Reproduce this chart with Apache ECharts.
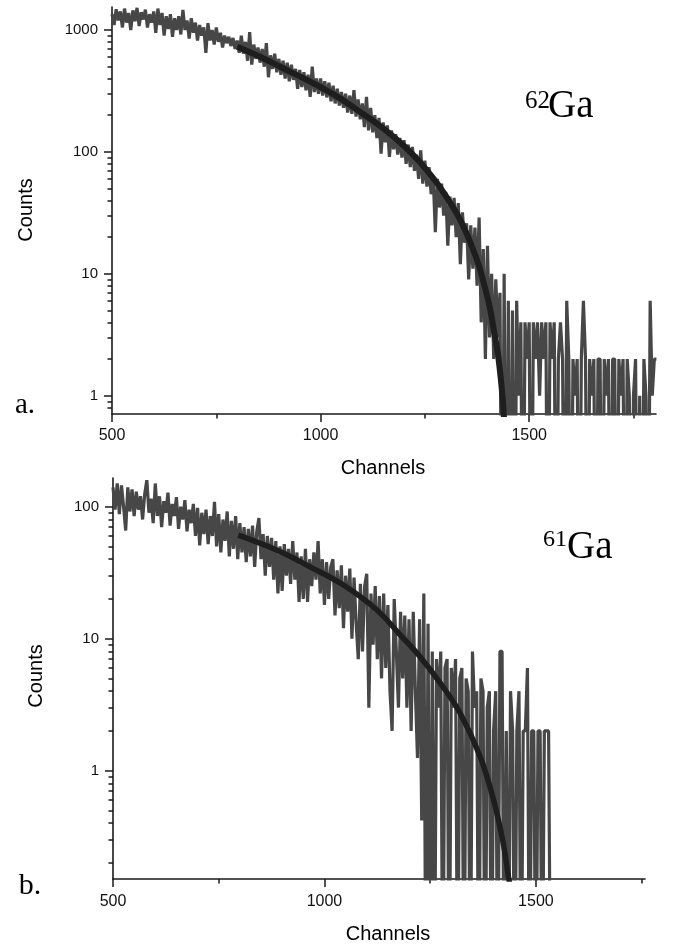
<!DOCTYPE html>
<html><head><meta charset="utf-8">
<script src="https://cdn.jsdelivr.net/npm/echarts@6/dist/echarts.min.js"></script>
<style>html,body{margin:0;padding:0;background:#fff}#c{width:673px;height:950px}</style>
</head><body><div id="c"></div>
<script>
// ---- Panel a: 62Ga spectrum (channels 500..1805, step 5) ----
const startA = 500, stepA = 5;
const countsA = [
1350,1100,1480,1200,1420,1050,1500,1150,1380,1000,
1450,1180,1520,1080,1400,1220,1470,1050,1350,1150,
1420,950,1500,1100,1380,900,1300,1020,1350,880,
1250,1000,1300,920,1460,1000,1200,850,1250,950,
1150,820,1100,900,1050,650,1140,820,1000,760,
1050,800,950,720,900,780,880,740,860,700,
820,650,900,640,800,560,960,520,760,580,
720,540,700,500,780,410,620,480,640,450,
580,430,560,400,540,380,520,390,480,330,
470,340,450,320,430,283,500,310,400,300,
400,290,380,280,370,260,350,250,330,240,
310,230,300,210,290,205,322,195,270,185,
250,160,283,150,230,145,200,130,190,97,
175,120,165,91,150,105,140,95,130,90,
125,80,115,75,110,70,95,60,103,55,
85,52,75,45,62,22,60,35,55,30,
47,17,43,25,42,20,38,12,32,18,
26,9,25,11,24,8,29,4,16,2,
17,3,10,2,9,3,7,0,10,0,
6,0,5,0,6,1,4,0,4,2,
4,0,4,2,4,1,4,2,4,0,
4,2,4,0,2,4,2,0,6,2,
0,2,1,2,0,2,6,2,0,2,
1,2,0,2,2,0,2,1,2,0,
2,2,0,2,1,2,0,2,1,0,
1,2,0,1,0,2,1,0,6,1,
2,2
];
const fitChA = [800,855,910,975,1040,1100,1150,1200,1240,1285,1335,1375,1390,1405,1415,1425,1436,1439,1444];
const fitValA = [730,604,486,377,284,207,156,112,81,52,27.6,13,8.7,5.4,3.5,2.2,1.0,0.708,0.45];

// ---- Panel b: 61Ga spectrum (channels 500..1535, step 5) ----
const startB = 500, stepB = 5;
const countsB = [
140,95,150,88,145,100,66,140,92,135,
85,130,95,120,80,125,159,90,115,75,
150,85,120,70,110,90,128,72,105,85,
118,68,100,80,112,65,95,75,105,60,
98,51,90,62,95,52,85,60,109,50,
88,45,80,55,92,42,78,48,85,40,
75,45,70,38,68,42,72,35,65,82,
40,62,30,60,35,58,28,55,22,50,
23,52,30,48,26,55,28,45,19,42,
20,48,19,40,25,45,28,55,22,40,
18,38,20,35,40,15,33,17,36,12,
30,16,34,10,29,13,7,26,8,25,
31,3,22,9,25,7,21,5,22,6,
18,4,2,20,8,3,16,5,15,3,
14,2,16,4,1.25,14,0.42,22,0,13,
0,8,0,7,3,8,0,6,7,0,
6,3,7,0,5,6,0,5,4,0,
8,3,4,0,5,4,0,3,4,0,
2,4,0,8,8,0,2,0,4,2,
0,2,4,0,2,2,6,0,2,2,
0,2,2,0,2,2,2,0
];
const fitChB = [796,887,966,1045,1124,1179,1226,1274,1321,1368,1400,1423,1435,1442];
const fitValB = [61,47,35,25.5,16.5,10.7,7.3,4.6,2.72,1.28,0.60,0.28,0.158,0.12];

// ---- Axis ticks ----
const xMajor = [500,1000,1500];
const xMinor = [750,1250,1750];
const yMajorA = [1,10,100,1000];
const yMinorA = [0.8,0.9,2,3,4,5,6,7,8,9,20,30,40,50,60,70,80,90,200,300,400,500,600,700,800,900];
const yMajorB = [1,10,100];
const yMinorB = [0.2,0.3,0.4,0.5,0.6,0.7,0.8,0.9,2,3,4,5,6,7,8,9,20,30,40,50,60,70,80,90];

const ZERO_FLOOR = 0.01; // zero counts are drawn down past the axis floor (clipped)
const SANS = "'Liberation Sans', Arial, Helvetica, sans-serif";
const SERIF = "'Liberation Serif', 'Times New Roman', serif";
const AX = '#1a1a1a';

function spectrum(start, step, counts) {
  return counts.map((v, i) => [start + i * step, v > 0 ? v : ZERO_FLOOR]);
}
function pairs(xs, ys) { return xs.map((x, i) => [x, ys[i]]); }

function xAxes(gi, max, margin) {
  return [
    { type: 'value', gridIndex: gi, min: 500, max: max, position: 'bottom',
      axisLine: { show: true, onZero: false, lineStyle: { color: AX, width: 1.6 } },
      axisTick: { show: true, customValues: xMajor, length: 8, lineStyle: { color: AX, width: 1.5 } },
      axisLabel: { customValues: xMajor, margin: margin, fontSize: 16, color: '#111', fontFamily: SANS, formatter: v => String(v) },
      splitLine: { show: false } },
    { type: 'value', gridIndex: gi, min: 500, max: max, position: 'bottom',
      axisLine: { show: false, onZero: false },
      axisTick: { show: true, customValues: xMinor, length: 4.5, lineStyle: { color: AX, width: 1.5 } },
      axisLabel: { show: false }, splitLine: { show: false } }
  ];
}
function yAxes(gi, min, max, majors, minors) {
  return [
    { type: 'log', gridIndex: gi, min: min, max: max, position: 'left',
      axisLine: { show: true, onZero: false, lineStyle: { color: AX, width: 1.6 } },
      axisTick: { show: true, customValues: majors, length: 8, lineStyle: { color: AX, width: 1.5 } },
      axisLabel: { customValues: majors, margin: 14, fontSize: 15, color: '#111', fontFamily: SANS, formatter: v => String(v) },
      splitLine: { show: false } },
    { type: 'log', gridIndex: gi, min: min, max: max, position: 'left',
      axisLine: { show: false, onZero: false },
      axisTick: { show: true, customValues: minors, length: 4.5, lineStyle: { color: AX, width: 1.5 } },
      axisLabel: { show: false }, splitLine: { show: false } }
  ];
}

function txt(x, y, text, font, opts) {
  return Object.assign({ type: 'text', x: x, y: y, silent: true,
    style: { text: text, font: font, fill: '#000', textAlign: 'center', textVerticalAlign: 'middle', align: 'center', verticalAlign: 'middle' } }, opts || {});
}
function ltxt(x, y, text, font) {
  return { type: 'text', x: x, y: y, silent: true,
    style: { text: text, font: font, fill: '#000', textAlign: 'left', align: 'left', textVerticalAlign: 'middle', verticalAlign: 'middle' } };
}

const chart = echarts.init(document.getElementById('c'), null, { renderer: 'canvas' });
chart.setOption({
  animation: false,
  backgroundColor: '#fff',
  grid: [
    { left: 112, top: 7, width: 544, height: 407 },
    { left: 113, top: 478, width: 532, height: 401 }
  ],
  xAxis: [].concat(xAxes(0, 1804, 14), xAxes(1, 1758, 15)),
  yAxis: [].concat(yAxes(0, 0.708, 1545, yMajorA, yMinorA), yAxes(1, 0.151, 165, yMajorB, yMinorB)),
  series: [
    { type: 'line', xAxisIndex: 0, yAxisIndex: 0, data: spectrum(startA, stepA, countsA), showSymbol: false, clip: true,
      lineStyle: { color: '#474747', width: 3.2, join: 'bevel' }, z: 2 },
    { type: 'line', xAxisIndex: 0, yAxisIndex: 0, data: pairs(fitChA, fitValA), showSymbol: false, smooth: 0.4, clip: true,
      lineStyle: { color: '#1e1e1e', width: 6 }, z: 3 },
    { type: 'line', xAxisIndex: 2, yAxisIndex: 2, data: spectrum(startB, stepB, countsB), showSymbol: false, clip: true,
      lineStyle: { color: '#474747', width: 3.2, join: 'bevel' }, z: 2 },
    { type: 'line', xAxisIndex: 2, yAxisIndex: 2, data: pairs(fitChB, fitValB), showSymbol: false, smooth: 0.4, clip: true,
      lineStyle: { color: '#1e1e1e', width: 5.5 }, z: 3 }
  ],
  graphic: [
    txt(26, 210, 'Counts', '20px ' + SANS, { rotation: Math.PI / 2 }),
    txt(383, 468, 'Channels', '20px ' + SANS),
    txt(36, 676, 'Counts', '20px ' + SANS, { rotation: Math.PI / 2 }),
    txt(388, 934, 'Channels', '20px ' + SANS),
    txt(25, 405, 'a.', '29px ' + SERIF),
    txt(30, 886, 'b.', '30px ' + SERIF),
    ltxt(525, 101, '62', '25px ' + SERIF),
    ltxt(548, 107, 'Ga', '39px ' + SERIF),
    ltxt(543, 540, '61', '24px ' + SERIF),
    ltxt(567, 548, 'Ga', '39px ' + SERIF)
  ]
});
</script>
</body></html>
